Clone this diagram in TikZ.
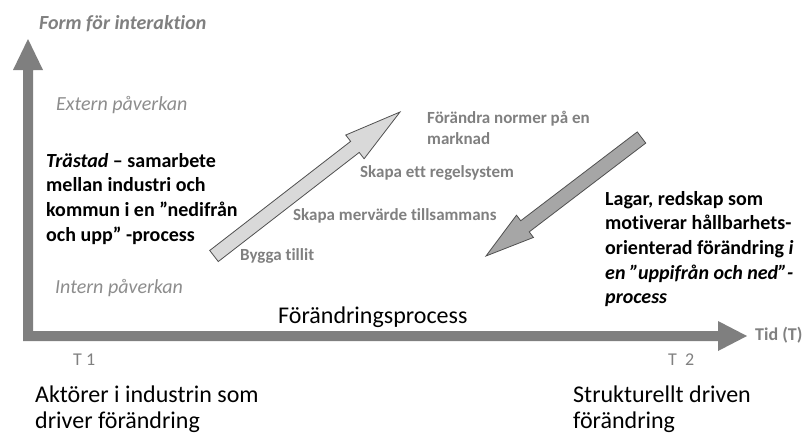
\documentclass[tikz,border=0pt]{standalone}
\usepackage{fontspec}
\setmainfont[RawFeature={-liga;-clig;-calt;-dlig}]{Carlito}
\usetikzlibrary{calc}
\definecolor{axisgray}{HTML}{7F7F7F}
\definecolor{labelgray}{HTML}{808080}
\definecolor{lightfill}{HTML}{D9D9D9}
\definecolor{darkfill}{HTML}{A6A6A6}
\definecolor{edgegray}{HTML}{505050}
\newcommand\mylines[1]{\begin{tabular}[t]{@{}l@{}}#1\end{tabular}}
\tikzset{
  txt/.style={inner sep=0pt, anchor=base west},
  graylabel/.style={txt, text=labelgray, font=\fontsize{17}{21}\selectfont\bfseries},
  blackblock/.style={txt, text=black, font=\fontsize{20}{24.7}\selectfont\bfseries},
  bigtext/.style={txt, text=black, font=\fontsize{24}{26}\selectfont},
  axistext/.style={txt, text=labelgray},
  axisfill/.style={fill=axisgray, draw=none},
}
\begin{document}
\begin{tikzpicture}[x=1pt,y=-1pt]
\useasboundingbox (0,0) rectangle (811,432);

% axes (L-shaped thick arrows)
\fill[axisfill] (23,341) -- (23,70) -- (13,70) -- (28,39) -- (43,70) -- (33,70) -- (33,331)
  -- (718,331) -- (718,321) -- (747,336) -- (718,351) -- (718,341) -- cycle;

% arrow 1 (upwards, light)
\coordinate (a1t) at (214,256);
\coordinate (a1p) at (400,112);
\coordinate (a1b) at ($(a1p)!57pt!(a1t)$);
\filldraw[fill=lightfill, draw=edgegray, line width=0.8pt, line join=miter]
  ($(a1t)!7pt!90:(a1p)$) -- ($(a1b)!7pt!-90:(a1t)$) -- ($(a1b)!15pt!-90:(a1t)$) -- (a1p)
  -- ($(a1b)!15pt!90:(a1t)$) -- ($(a1b)!7pt!90:(a1t)$) -- ($(a1t)!7pt!-90:(a1p)$) -- cycle;

% arrow 2 (downwards, dark)
\coordinate (a2t) at (641.5,137.5);
\coordinate (a2p) at (486,256);
\coordinate (a2b) at ($(a2p)!49pt!(a2t)$);
\filldraw[fill=darkfill, draw=edgegray, line width=0.8pt, line join=miter]
  ($(a2t)!7pt!90:(a2p)$) -- ($(a2b)!7pt!-90:(a2t)$) -- ($(a2b)!14pt!-90:(a2t)$) -- (a2p)
  -- ($(a2b)!14pt!90:(a2t)$) -- ($(a2b)!7pt!90:(a2t)$) -- ($(a2t)!7pt!-90:(a2p)$) -- cycle;

% axis labels
\node[axistext, font=\fontsize{20}{24}\selectfont\bfseries\itshape] (form) at (39,29) {Form för interaktion};
\node[axistext, text=labelgray!90, font=\fontsize{20}{24}\selectfont\itshape] (extern) at (56,110) {Extern påverkan};
\node[axistext, text=labelgray!90, font=\fontsize{20}{24}\selectfont\itshape] (intern) at (55,293) {Intern påverkan};
\node[axistext, font=\fontsize{18}{22}\selectfont\bfseries] (tid) at (755,340) {Tid (T)};
\node[axistext, font=\fontsize{18}{22}\selectfont] (t1) at (73,365) {T 1};
\node[axistext, font=\fontsize{18}{22}\selectfont] (t2) at (668,365) {T\ \ 2};

% black blocks
\node[blackblock] (trastad) at (46,167) {\mylines{\textit{Trästad} – samarbete\\mellan industri och\\kommun i en ”nedifrån\\och upp” -process}};
\node[blackblock] (lagar) at (605,205) {\mylines{Lagar, redskap som\\motiverar hållbarhets-\\orienterad förändring \textit{i}\\\textit{en ”uppifrån och ned”-}\\\textit{process}}};

% gray step labels
\node[graylabel] (normer) at (427,123) {\mylines{Förändra normer på en\\marknad}};
\node[graylabel] (regel) at (360,177) {Skapa ett regelsystem};
\node[graylabel] (merv) at (293,220) {Skapa mervärde tillsammans};
\node[graylabel] (tillit) at (240,260) {Bygga tillit};

% process and bottom texts
\node[bigtext] (process) at (278,323) {Förändringsprocess};
\node[bigtext] (aktorer) at (35,402) {\mylines{Aktörer i industrin som\\driver förändring}};
\node[bigtext] (struktur) at (573,402) {\mylines{Strukturellt driven\\förändring}};
\end{tikzpicture}
\end{document}
